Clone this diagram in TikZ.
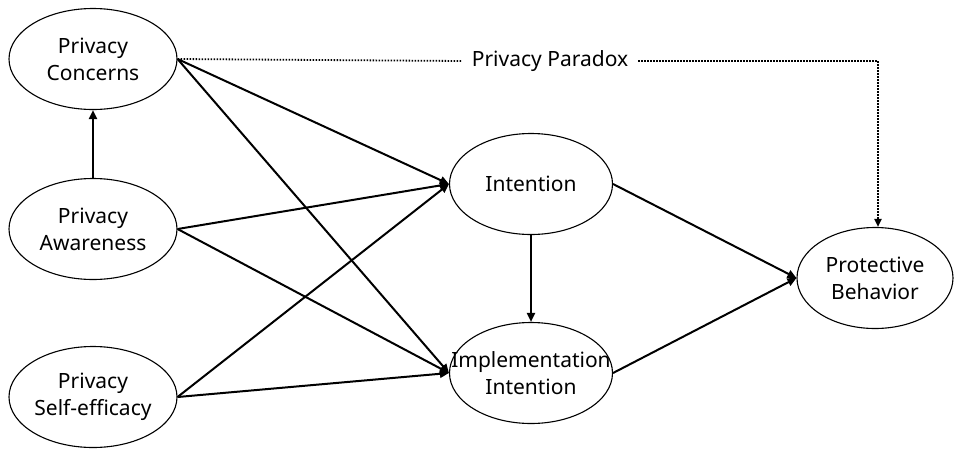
\documentclass[tikz,border=0pt]{standalone}
\usepackage{fontspec}
\setmainfont{Noto Sans}
\usetikzlibrary{shapes.geometric,arrows.meta}
\tikzset{
  construct/.style={ellipse, draw, line width=1.1pt, minimum width=168pt, minimum height=101pt, inner sep=0pt},
  lbl/.style={align=center, inner sep=0pt, font=\fontsize{21}{27}\selectfont},
  path/.style={line width=2pt, -{Triangle[length=9pt,width=8pt]}},
  dots/.style={line width=1.8pt, dash pattern=on 1.6pt off 1.4pt},
  paradox/.style={dots, -{Triangle[length=8pt,width=7pt]}}
}
\begin{document}
\begin{tikzpicture}[x=1pt,y=-1pt]
\useasboundingbox (0,0) rectangle (967,448);
\node[construct] (pc) at (93,59) {};
\node[lbl] (pct) at (pc) {Privacy\\Concerns};
\node[construct] (pa) at (93,229) {};
\node[lbl] (pat) at (pa) {Privacy\\Awareness};
\node[construct] (ps) at (93,397) {};
\node[lbl] (pst) at (ps) {Privacy\\Self-efficacy};
\node[construct, minimum width=163pt] (in) at (531,184) {};
\node[lbl] (int) at (in) {Intention};
\node[construct, minimum width=163pt] (ii) at (531,373) {};
\node[lbl] (iit) at (ii) {Implementation\\Intention};
\node[construct, minimum width=156pt] (pb) at (875,278) {};
\node[lbl] (pbt) at (pb) {Protective\\Behavior};
\node[lbl, inner xsep=10pt] (pp) at (550,61) {Privacy Paradox};
\coordinate (corner) at (878,61);
\draw[path] (pa.north) -- (pc.south);
\draw[path] (pc.east) -- (in.west);
\draw[path] (pc.east) -- (ii.west);
\draw[path] (pa.east) -- (in.west);
\draw[path] (pa.east) -- (ii.west);
\draw[path] (ps.east) -- (in.west);
\draw[path] (ps.east) -- (ii.west);
\draw[path] (in.south) -- (ii.north);
\draw[path] (in.east) -- (pb.west);
\draw[path] (ii.east) -- (pb.west);
\draw[dots] (pc.east) -- (pp.west);
\draw[paradox] (pp.east) -- (corner) -- (corner |- pb.north);
\end{tikzpicture}
\end{document}
